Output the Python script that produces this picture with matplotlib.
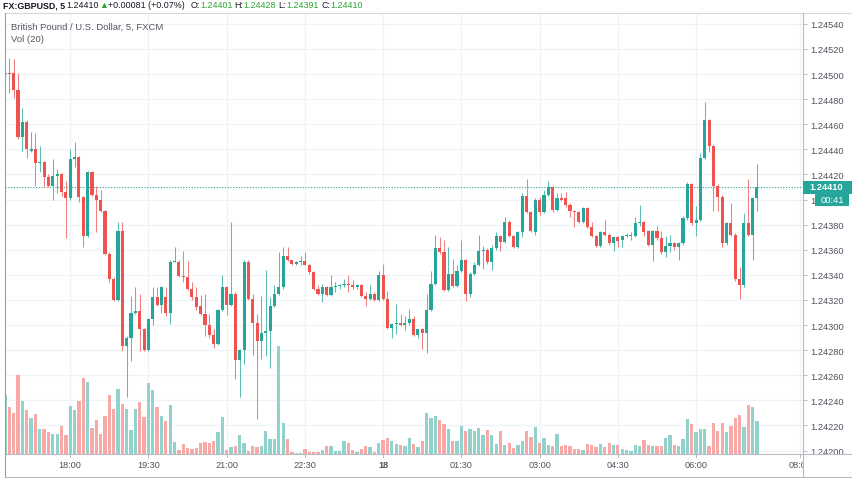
import matplotlib
matplotlib.use("Agg")
import matplotlib.pyplot as plt
import numpy as np
from matplotlib.collections import LineCollection
from matplotlib.lines import Line2D
from matplotlib.patches import Rectangle
from matplotlib import transforms

plt.rcParams['font.family'] = ['Liberation Sans', 'DejaVu Sans']

# GBPUSD 5 min candles, prices stored in points (1e-5)
open_pts = [
    124500, 124501, 124501, 124487, 124450, 124462, 124439, 124440, 124429, 124430,
    124418, 124411, 124419, 124420, 124406, 124401, 124432, 124434, 124402, 124371,
    124422, 124404, 124400, 124391, 124357, 124337, 124320, 124375, 124283, 124290,
    124310, 124311, 124297, 124280, 124305, 124322, 124316, 124322, 124310, 124350,
    124350, 124339, 124338, 124329, 124322, 124315, 124309, 124300, 124292, 124285,
    124312, 124330, 124316, 124325, 124272, 124280, 124350, 124321, 124302, 124287,
    124294, 124295, 124315, 124325, 124330, 124355, 124352, 124349, 124350, 124351,
    124348, 124342, 124329, 124325, 124330, 124324, 124330, 124331, 124332, 124333,
    124332, 124330, 124332, 124323, 124321, 124325, 124320, 124340, 124321, 124298,
    124301, 124302, 124300, 124302, 124305, 124292, 124297, 124294, 124312, 124333,
    124361, 124358, 124328, 124341, 124331, 124343, 124352, 124325, 124341, 124348,
    124359, 124360, 124350, 124361, 124371, 124366, 124382, 124371, 124362, 124374,
    124403, 124390, 124374, 124400, 124390, 124404, 124410, 124392, 124401, 124401,
    124396, 124391, 124390, 124382, 124393, 124378, 124371, 124363, 124374, 124372,
    124365, 124370, 124368, 124371, 124371, 124371, 124381, 124382, 124375, 124364,
    124375, 124369, 124358, 124363, 124365, 124362, 124365, 124385, 124412, 124381,
    124384, 124433, 124463, 124443, 124411, 124402, 124365, 124381, 124372, 124337,
    124332, 124381, 124372, 124401,
]
high_pts = [
    124509, 124513, 124512, 124501, 124473, 124463, 124454, 124453, 124443, 124431,
    124420, 124432, 124424, 124421, 124415, 124440, 124446, 124435, 124403, 124423,
    124423, 124411, 124408, 124392, 124358, 124338, 124382, 124382, 124291, 124323,
    124330, 124325, 124298, 124306, 124330, 124330, 124331, 124330, 124352, 124362,
    124352, 124359, 124351, 124334, 124330, 124324, 124325, 124309, 124298, 124313,
    124340, 124331, 124382, 124326, 124281, 124352, 124352, 124325, 124309, 124323,
    124344, 124322, 124332, 124358, 124362, 124362, 124352, 124351, 124355, 124358,
    124349, 124343, 124332, 124333, 124331, 124340, 124334, 124333, 124337, 124340,
    124336, 124333, 124333, 124326, 124332, 124326, 124343, 124349, 124327, 124302,
    124317, 124309, 124307, 124313, 124307, 124297, 124298, 124325, 124343, 124372,
    124370, 124368, 124362, 124353, 124348, 124368, 124353, 124342, 124350, 124372,
    124363, 124361, 124364, 124374, 124372, 124386, 124384, 124372, 124375, 124405,
    124416, 124391, 124401, 124402, 124408, 124415, 124411, 124405, 124405, 124406,
    124397, 124392, 124391, 124394, 124394, 124382, 124372, 124375, 124384, 124373,
    124371, 124371, 124372, 124373, 124374, 124386, 124396, 124383, 124376, 124376,
    124379, 124375, 124371, 124372, 124366, 124366, 124387, 124414, 124413, 124395,
    124437, 124478, 124464, 124444, 124412, 124404, 124382, 124397, 124373, 124346,
    124389, 124416, 124402, 124428,
]
low_pts = [
    124479, 124485, 124481, 124448, 124439, 124433, 124438, 124411, 124422, 124410,
    124410, 124400, 124405, 124403, 124369, 124400, 124426, 124398, 124362, 124370,
    124403, 124374, 124390, 124356, 124334, 124319, 124319, 124279, 124243, 124271,
    124309, 124279, 124279, 124279, 124300, 124315, 124310, 124307, 124301, 124350,
    124338, 124334, 124328, 124320, 124312, 124308, 124291, 124290, 124282, 124284,
    124311, 124308, 124315, 124257, 124243, 124269, 124320, 124276, 124225, 124273,
    124275, 124266, 124314, 124324, 124329, 124351, 124348, 124348, 124348, 124348,
    124341, 124328, 124324, 124318, 124323, 124323, 124326, 124329, 124330, 124326,
    124329, 124329, 124322, 124315, 124320, 124319, 124319, 124320, 124297, 124290,
    124293, 124299, 124296, 124300, 124291, 124290, 124281, 124278, 124311, 124332,
    124357, 124327, 124327, 124330, 124330, 124342, 124319, 124322, 124340, 124347,
    124345, 124349, 124344, 124360, 124359, 124365, 124370, 124361, 124361, 124370,
    124389, 124374, 124372, 124388, 124389, 124403, 124390, 124391, 124399, 124394,
    124386, 124378, 124381, 124381, 124377, 124370, 124362, 124362, 124371, 124364,
    124359, 124362, 124362, 124370, 124368, 124370, 124379, 124371, 124363, 124351,
    124368, 124357, 124354, 124358, 124360, 124352, 124364, 124384, 124380, 124371,
    124383, 124432, 124438, 124391, 124391, 124362, 124364, 124371, 124335, 124321,
    124330, 124371, 124352, 124391,
]
close_pts = [
    124501, 124500, 124487, 124450, 124462, 124440, 124440, 124429, 124430, 124418,
    124411, 124419, 124420, 124406, 124401, 124432, 124434, 124402, 124371, 124422,
    124404, 124400, 124391, 124357, 124337, 124320, 124375, 124283, 124290, 124310,
    124311, 124297, 124280, 124305, 124322, 124316, 124330, 124310, 124350, 124351,
    124339, 124338, 124329, 124322, 124314, 124309, 124300, 124292, 124285, 124312,
    124330, 124316, 124325, 124272, 124280, 124350, 124321, 124302, 124287, 124294,
    124295, 124315, 124325, 124330, 124355, 124352, 124349, 124350, 124351, 124348,
    124342, 124329, 124325, 124330, 124324, 124330, 124331, 124332, 124333, 124332,
    124330, 124332, 124323, 124321, 124325, 124320, 124340, 124321, 124298, 124301,
    124302, 124300, 124302, 124305, 124292, 124297, 124294, 124312, 124333, 124361,
    124358, 124328, 124341, 124331, 124343, 124352, 124325, 124341, 124348, 124359,
    124360, 124350, 124361, 124371, 124366, 124382, 124371, 124362, 124374, 124403,
    124390, 124375, 124400, 124390, 124404, 124410, 124392, 124401, 124400, 124396,
    124391, 124390, 124382, 124393, 124378, 124371, 124363, 124374, 124372, 124365,
    124370, 124367, 124371, 124372, 124372, 124381, 124382, 124374, 124364, 124375,
    124369, 124358, 124363, 124365, 124362, 124365, 124385, 124412, 124381, 124384,
    124433, 124463, 124443, 124411, 124402, 124365, 124381, 124372, 124337, 124332,
    124381, 124372, 124401, 124410,
]
volumes = [
    59, 47, 41, 79, 53, 44, 36, 40, 25, 25, 22, 20, 20, 28, 19, 48, 44, 53, 76, 72,
    26, 34, 20, 38, 59, 45, 65, 50, 45, 24, 45, 52, 37, 71, 64, 47, 38, 33, 49, 12,
    4, 10, 6, 5, 6, 11, 12, 11, 13, 22, 37, 4, 7, 8, 19, 11, 3, 8, 7, 8,
    23, 15, 15, 108, 31, 15, 2, 1, 1, 5, 2, 2, 2, 4, 8, 8, 3, 3, 13, 11,
    4, 2, 5, 8, 7, 2, 11, 14, 16, 13, 10, 9, 8, 16, 10, 7, 13, 41, 36, 38,
    34, 30, 25, 13, 13, 28, 23, 25, 23, 26, 19, 24, 19, 10, 23, 9, 11, 6, 9, 13,
    23, 17, 27, 11, 16, 9, 8, 20, 8, 9, 8, 5, 5, 4, 10, 9, 7, 10, 7, 11,
    9, 9, 5, 4, 3, 9, 8, 14, 9, 8, 8, 8, 16, 19, 9, 8, 15, 35, 30, 22,
    25, 25, 8, 31, 23, 31, 22, 28, 36, 39, 27, 49, 47, 33,
]
time_labels = ["18:00", "19:30", "21:00", "22:30", "18", "01:30", "03:00", "04:30", "06:00", "08:00"]
time_index = [15, 33, 51, 69, 87, 105, 123, 141, 159, 183]
price_ticks = [1.24200, 1.24220, 1.24240, 1.24260, 1.24280, 1.24300, 1.24320, 1.24340, 1.24360,
               1.24380, 1.24400, 1.24420, 1.24440, 1.24460, 1.24480, 1.24500, 1.24520, 1.24540]
change_text = "+0.00081 (+0.07%)"
countdown = "00:41"

o = np.array(open_pts) / 1e5
h = np.array(high_pts) / 1e5
l = np.array(low_pts) / 1e5
c = np.array(close_pts) / 1e5
x = np.arange(len(o))
up = c >= o

GREEN = "#26a69a"
RED = "#ef5350"
GRID = "#eff2f6"
FRAME = "#b8bbc2"
TXT = "#50535e"

W, H = 852, 485
fig = plt.figure(figsize=(W / 100, H / 100), dpi=100)


def fx(px):
    return px / W


def fy(py):
    return 1 - py / H


left, right, top, bottom = 4.5, 803, 14, 455
rect = [fx(left), fy(bottom), fx(right) - fx(left), fy(top) - fy(bottom)]
ylim = (1.2419725, 1.2454865)
xlim = (-0.12, 183.6)

# background grid
ax_bg = fig.add_axes(rect)
ax_bg.set_xlim(xlim)
ax_bg.set_ylim(ylim)
ax_bg.axis("off")
for p in price_ticks:
    ax_bg.axhline(p, color=GRID, lw=0.9, zorder=0)
for t in time_index:
    ax_bg.axvline(t, color=GRID, lw=0.9, zorder=0)

# volume overlay
ax_v = fig.add_axes(rect)
ax_v.patch.set_visible(False)
ax_v.set_xlim(xlim)
ax_v.set_ylim(0, bottom - top)
ax_v.axis("off")
vcol = np.where(up, "#92d2cc", "#f7a9a7")
ax_v.bar(x, volumes, width=0.76, color=vcol, linewidth=0)

# candles
ax = fig.add_axes(rect)
ax.patch.set_visible(False)
ax.set_xlim(xlim)
ax.set_ylim(ylim)
wick_col = np.where(up, "#5dbdb3", "#f3807e")
segs = [[(i, lo), (i, hi)] for i, lo, hi in zip(x, l, h)]
ax.add_collection(LineCollection(segs, colors=wick_col, linewidths=0.75, zorder=2))
body_bottom = np.minimum(o, c)
body_h = np.maximum(np.abs(c - o), 0.000009)
ax.bar(x, body_h, bottom=body_bottom, width=0.72, color=np.where(up, GREEN, RED),
       linewidth=0, zorder=3)
ax.axhline(c[-1], color=GREEN, lw=0.8, ls=(0, (1, 1.5)), zorder=1)

for s in ax.spines.values():
    s.set_visible(False)
ax.set_xticks([])
ax.yaxis.tick_right()
ax.set_yticks(price_ticks)
ax.set_yticklabels([f"{p:.5f}" for p in price_ticks])
ax.tick_params(axis="y", length=3, width=0.7, color=FRAME, pad=2.5,
               labelsize=6.7, labelcolor=TXT)

# last price tag and countdown
bt = transforms.blended_transform_factory(fig.transFigure, ax.transData)
tag_h = 13 / 25.1 * 0.0002
fig.add_artist(Rectangle((fx(right), c[-1] - tag_h / 2), 1 - fx(right), tag_h,
                         transform=bt, color=GREEN, lw=0, zorder=10))
fig.text(fx(809), fy(188), f"{c[-1]:.5f}", color="white", fontsize=6.7,
         fontweight="bold", va="center", ha="left", zorder=11)
fig.add_artist(Rectangle((fx(815), fy(207)), fx(849) - fx(815), 13 / H,
                         transform=fig.transFigure, color=GREEN, lw=0, zorder=10))
fig.text(fx(832), fy(200.5), countdown, color="white", fontsize=6.7,
         va="center", ha="center", zorder=11)

# time axis
ax_t = fig.add_axes([fx(left), fy(478), fx(right) - fx(left), fy(bottom) - fy(478)])
ax_t.set_xlim(xlim)
ax_t.set_ylim(0, 1)
ax_t.axis("off")
for t, lab in zip(time_index, time_labels):
    ax_t.plot([t, t], [1, 0.87], color=FRAME, lw=0.7)
    ax_t.text(t, 0.56, lab, ha="center", va="center", fontsize=6.6, color=TXT,
              fontweight="bold" if lab == "18" else "normal", clip_on=True)

# frame lines
for xs, ys, col in [
    ([left, W], [top, top], "#d6d8dd"),
    ([left, W], [bottom, bottom], FRAME),
    ([left, W], [478, 478], FRAME),
    ([left, left], [top, 478], "#9a9da5"),
    ([right, right], [top, 478], FRAME),
]:
    fig.add_artist(Line2D([fx(v) for v in xs], [fy(v) for v in ys], color=col, lw=0.8,
                          transform=fig.transFigure))

# header
DARK = "#131722"
HGREEN = "#2aa52f"
header = [
    ("FX:GBPUSD, 5", 3, DARK, "bold"),
    (f"{c[-1]:.5f}", 66, DARK, "normal"),
    ("\u25b2", 99, HGREEN, "normal"),
    (change_text, 108, DARK, "normal"),
    ("O:", 191, DARK, "normal"),
    (f"{o[-1]:.5f}", 200, HGREEN, "normal"),
    ("H:", 234, DARK, "normal"),
    (f"{h[-1]:.5f}", 243, HGREEN, "normal"),
    ("L:", 278, DARK, "normal"),
    (f"{l[-1]:.5f}", 286, HGREEN, "normal"),
    ("C:", 321, DARK, "normal"),
    (f"{c[-1]:.5f}", 330, HGREEN, "normal"),
]
for txt, px, col, wt in header:
    fig.text(fx(px), fy(6), txt, color=col, fontsize=6.4, fontweight=wt,
             va="center", ha="left")

fig.text(fx(11), fy(27), "British Pound / U.S. Dollar, 5, FXCM", color="#555861",
         fontsize=6.8, va="center", ha="left")
fig.text(fx(11), fy(40), "Vol (20)", color="#555861", fontsize=6.8, va="center", ha="left")

fig.savefig("out.png", dpi=100)
